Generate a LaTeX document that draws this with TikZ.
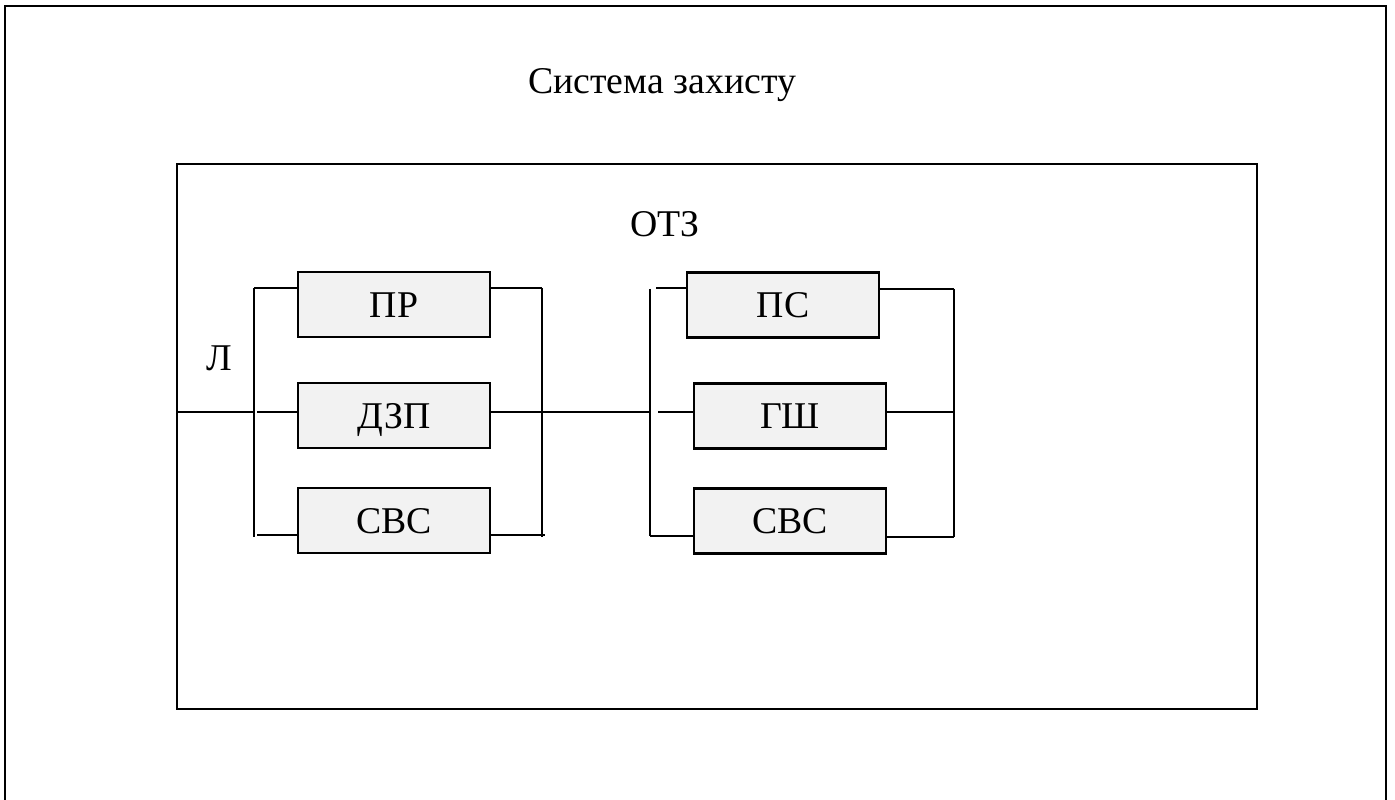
\documentclass[tikz,border=0pt]{standalone}
\usepackage{fontspec}
\setmainfont{Liberation Serif}
\usetikzlibrary{positioning, calc}

\tikzset{
  blk/.style={draw, line width=1.2pt, fill=black!5, minimum width=3.84cm, minimum height=1.3cm, inner sep=0pt, text height=14.4pt, text depth=0pt, font=\fontsize{21.5}{25}\selectfont},
  wire/.style={line width=0.6pt},
  frame/.style={line width=1.5pt},
  lbl/.style={anchor=base, font=\fontsize{21.5}{25}\selectfont}
}

\begin{document}
\begin{tikzpicture}[x=0.02cm, y=-0.02cm]
  \useasboundingbox (0,0) rectangle (1395,800);
  % outer frame (bottom edge is off the page)
  \draw[frame] (5,800) -- (5,6) -- (1386,6) -- (1386,800);
  \node[lbl] (title) at (662,94) {Система захисту};
  % inner frame
  \draw[frame] (177,164) rectangle (1257,709);
  \node[lbl] (otz) at (665,237) {ОТЗ};
  \node[lbl] (lab) at (219,370) {Л};

  % first group
  \node[blk] (pr) at (394,304.5) {ПР};
  \node[blk] (dzp) at (394,415.5) {ДЗП};
  \node[blk] (svcA) at (394,520.5) {СВС};
  % second group
  \node[blk] (ps) at (783,305) {ПС};
  \node[blk] (gsh) at (790,416) {ГШ};
  \node[blk] (svcB) at (790,521) {СВС};

  % buses
  \coordinate (in) at (177,412);
  \coordinate (aT) at (254,288); \coordinate (aB) at (254,537);
  \coordinate (aM) at (257,412); \coordinate (aL) at (257,535);
  \coordinate (bT) at (542,288); \coordinate (bB) at (542,537);
  \coordinate (bM) at (545,412); \coordinate (bL) at (545,535);
  \coordinate (cT) at (650,289); \coordinate (cB) at (650,536);
  \coordinate (cU) at (656,288); \coordinate (cM) at (658,412);
  \coordinate (dT) at (954,289); \coordinate (dB) at (954,537);

  \draw[wire] (aT) -- (aB);
  \draw[wire] (bT) -- (bB);
  \draw[wire] (cT) -- (cB);
  \draw[wire] (dT) -- (dB);

  \draw[wire] (in) -- (in -| aT);
  \draw[wire] (aT) -- (aT -| pr.west);
  \draw[wire] (aM) -- (aM -| dzp.west);
  \draw[wire] (aL) -- (aL -| svcA.west);
  \draw[wire] (pr.east |- bT) -- (bT);
  \draw[wire] (dzp.east |- bM) -- (bM);
  \draw[wire] (svcA.east |- bL) -- (bL);

  \draw[wire] (bT |- bM) -- (cT |- bM);

  \draw[wire] (cU) -- (cU -| ps.west);
  \draw[wire] (cM) -- (cM -| gsh.west);
  \draw[wire] (cB) -- (cB -| svcB.west);
  \draw[wire] (ps.east |- dT) -- (dT);
  \draw[wire] (gsh.east |- cM) -- (dT |- cM);
  \draw[wire] (svcB.east |- dB) -- (dB);
\end{tikzpicture}
\end{document}
